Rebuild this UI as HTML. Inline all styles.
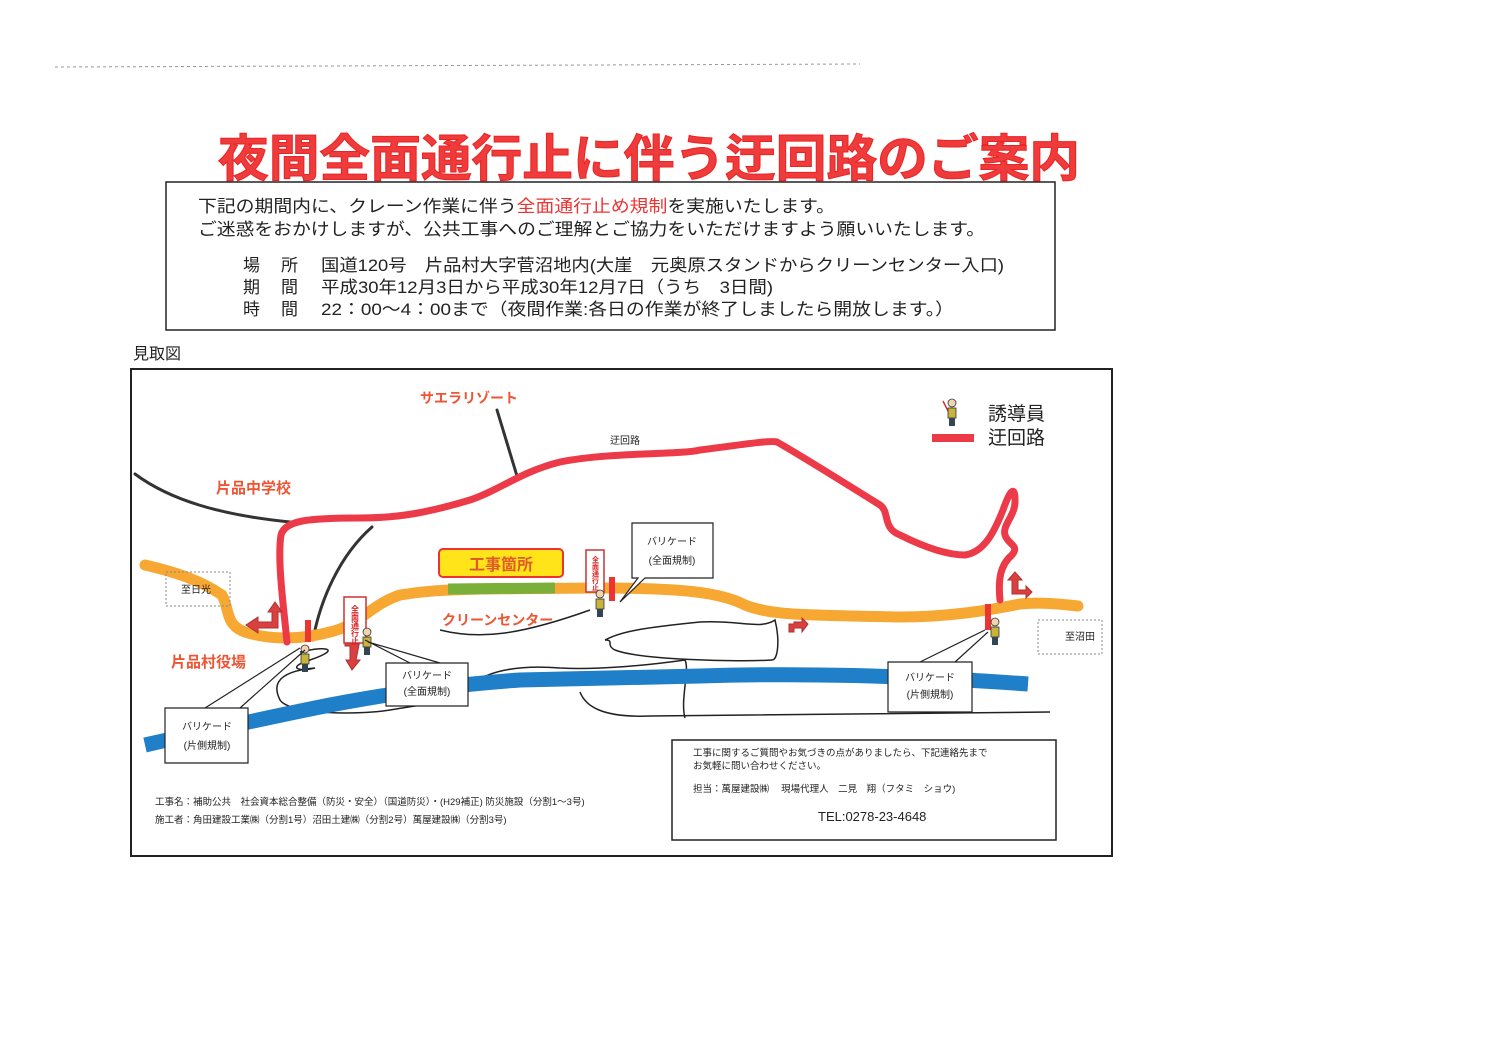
<!DOCTYPE html>
<html><head><meta charset="utf-8">
<style>
html,body{margin:0;padding:0;background:#fff;}
svg{display:block;}
text{font-family:"Liberation Sans","Noto Sans CJK JP",sans-serif;}
</style></head>
<body>
<svg width="1497" height="1058" viewBox="0 0 1497 1058" xmlns="http://www.w3.org/2000/svg">
<rect width="1497" height="1058" fill="#fff"/>
<line x1="55" y1="67" x2="860" y2="64" stroke="#999" stroke-width="1" stroke-dasharray="3,3"/>
<!-- title -->
<text x="218" y="176" font-size="50" font-weight="bold" fill="#ee3b3b" stroke="#e22" stroke-width="1" textLength="862" lengthAdjust="spacingAndGlyphs">夜間全面通行止に伴う迂回路のご案内</text>
<!-- info box -->
<rect x="166" y="182" width="889" height="148" fill="none" stroke="#222" stroke-width="1.5"/>
<g font-size="17" fill="#222">
<text x="198" y="212" textLength="637" lengthAdjust="spacingAndGlyphs">下記の期間内に、クレーン作業に伴う<tspan fill="#e33">全面通行止め規制</tspan>を実施いたします。</text>
<text x="198" y="235" textLength="787" lengthAdjust="spacingAndGlyphs">ご迷惑をおかけしますが、公共工事へのご理解とご協力をいただけますよう願いいたします。</text>
<text x="243" y="271">場</text><text x="281" y="271">所</text>
<text x="321" y="271" textLength="683" lengthAdjust="spacingAndGlyphs">国道120号　片品村大字菅沼地内(大崖　元奥原スタンドからクリーンセンター入口)</text>
<text x="243" y="293">期</text><text x="281" y="293">間</text>
<text x="321" y="293" textLength="452" lengthAdjust="spacingAndGlyphs">平成30年12月3日から平成30年12月7日（うち　3日間)</text>
<text x="243" y="315">時</text><text x="281" y="315">間</text>
<text x="321" y="315" textLength="633" lengthAdjust="spacingAndGlyphs">22：00～4：00まで（夜間作業:各日の作業が終了しましたら開放します。）</text>
</g>
<text x="133" y="359" font-size="16" fill="#222">見取図</text>
<!-- map frame -->
<rect x="131" y="369" width="981" height="487" fill="none" stroke="#222" stroke-width="2"/>
<!-- black lines -->
<g fill="none" stroke="#333" stroke-width="3" stroke-linecap="round">
<path d="M135,474 C170,500 220,515 290,522"/>
<path d="M497,410 L517,476"/>
<path d="M372,527 C340,555 320,600 313,640"/>
</g>
<!-- thin black outlines -->
<g fill="none" stroke="#222" stroke-width="1.5">
<path d="M300,652 C330,645 340,650 310,660 C285,668 300,672 315,668 C270,672 275,690 280,700 C290,715 360,715 390,710 C420,705 460,700 470,690"/>
<path d="M470,690 C480,670 520,665 560,668 C600,670 650,665 685,660 C690,670 680,700 685,718"/>
<path d="M580,692 C585,705 600,718 650,716 L1050,712"/>
<path d="M440,630 C480,640 520,635 590,610"/>
<path d="M605,640 C620,632 640,628 700,622 C740,620 760,630 775,620 C780,640 778,660 772,660 C740,662 640,660 615,650 C605,645 615,640 605,640"/>
</g>
<!-- blue river -->
<path d="M145,745 C220,728 280,715 330,705 C400,692 450,685 520,680 L700,676 C800,673 900,675 1028,684" fill="none" stroke="#1f7fc8" stroke-width="15"/>
<!-- orange road -->
<path d="M145,565 C175,572 200,580 222,595 C230,610 225,625 245,632 C270,640 300,640 330,632 C360,625 370,605 400,595 C430,590 450,590 480,589 L600,588 C680,588 720,592 745,605 C770,615 800,615 900,617 C950,617 990,610 1020,604 C1040,602 1060,604 1078,606" fill="none" stroke="#f7a833" stroke-width="11" stroke-linecap="round"/>
<path d="M448,589 L555,588" stroke="#7ab03a" stroke-width="11"/>
<!-- red route -->
<path d="M287,642 C284,610 277,560 281,535 C285,520 310,518 360,518 C400,518 430,512 470,500 C500,490 520,472 560,462 C610,452 680,455 700,450 C740,445 770,440 777,442 C800,455 840,480 880,505 C890,512 882,528 900,535 C920,545 945,555 965,555 C985,552 995,530 1003,510 C1010,490 1015,485 1015,500 C1016,515 1002,525 1005,535 C1008,545 1020,545 1012,555 C1000,565 998,580 1000,600" fill="none" stroke="#ec3a48" stroke-width="7" stroke-linecap="round" stroke-linejoin="round"/>
<!-- small arrows -->
<g fill="#d94040" stroke="#b03030" stroke-width="1">
<path d="M246,625 L258,617 L258,622 L272,622 L272,612 L268,612 L275,602 L282,612 L278,612 L278,628 L258,628 L258,633 Z"/>
<path d="M789,624 L789,632 L794,632 L794,628 L802,628 L802,632 L808,624 L802,618 L802,622 L794,622 L794,624 Z"/>
<path d="M1012,592 L1012,580 L1008,580 L1015,572 L1022,580 L1018,580 L1018,590 L1026,590 L1026,586 L1032,592 L1026,598 L1026,594 L1012,594 Z"/>
<path d="M345,640 L360,640 L356,660 L360,660 L352,670 L346,660 L350,660 L350,646 L345,646 Z"/>
</g>
<!-- barricade red bars -->
<g fill="#e33">
<rect x="305" y="620" width="6" height="22"/>
<rect x="609" y="577" width="6" height="24"/>
<rect x="985" y="604" width="6" height="26"/>
</g>
<!-- signs -->
<g>
<rect x="344" y="597" width="22" height="46" fill="#fff" stroke="#c33" stroke-width="1.5"/>
<text x="355" y="605" font-size="8" fill="#d22" writing-mode="tb" text-anchor="start" font-weight="bold">全面通行止</text>
<rect x="586" y="550" width="18" height="42" fill="#fff" stroke="#c33" stroke-width="1.5"/>
<text x="595" y="556" font-size="7" fill="#d22" writing-mode="tb" font-weight="bold">全面通行止</text>
</g>
<!-- guides (people) -->
<g>
<g transform="translate(300,645)"><circle cx="5" cy="4" r="4" fill="#f2d3b0" stroke="#333" stroke-width=".8"/><rect x="1" y="9" width="8" height="10" fill="#c8b43a" stroke="#333" stroke-width=".8"/><rect x="2" y="19" width="6" height="8" fill="#345"/></g>
<g transform="translate(362,628)"><circle cx="5" cy="4" r="4" fill="#f2d3b0" stroke="#333" stroke-width=".8"/><rect x="1" y="9" width="8" height="10" fill="#c8b43a" stroke="#333" stroke-width=".8"/><rect x="2" y="19" width="6" height="8" fill="#345"/></g>
<g transform="translate(595,590)"><circle cx="5" cy="4" r="4" fill="#f2d3b0" stroke="#333" stroke-width=".8"/><rect x="1" y="9" width="8" height="10" fill="#c8b43a" stroke="#333" stroke-width=".8"/><rect x="2" y="19" width="6" height="8" fill="#345"/></g>
<g transform="translate(990,618)"><circle cx="5" cy="4" r="4" fill="#f2d3b0" stroke="#333" stroke-width=".8"/><rect x="1" y="9" width="8" height="10" fill="#c8b43a" stroke="#333" stroke-width=".8"/><rect x="2" y="19" width="6" height="8" fill="#345"/></g>
<g transform="translate(947,399)"><line x1="-4" y1="2" x2="2" y2="14" stroke="#c33" stroke-width="1.5"/><circle cx="5" cy="4" r="4" fill="#f2d3b0" stroke="#333" stroke-width=".8"/><rect x="1" y="9" width="8" height="10" fill="#c8b43a" stroke="#333" stroke-width=".8"/><rect x="2" y="19" width="6" height="8" fill="#345"/></g>
</g>
<!-- 工事箇所 -->
<rect x="439" y="549" width="124" height="28" rx="4" fill="#ffe41a" stroke="#e33" stroke-width="2"/>
<text x="501" y="570" font-size="16" font-weight="bold" fill="#e35a2a" text-anchor="middle">工事箇所</text>
<!-- labels -->
<g font-weight="bold" fill="#ee5533">
<text x="420" y="403" font-size="14">サエラリゾート</text>
<text x="216" y="493" font-size="15">片品中学校</text>
<text x="171" y="667" font-size="15">片品村役場</text>
<text x="442" y="625" font-size="14">クリーンセンター</text>
</g>
<g font-size="10" fill="#222">
<rect x="166" y="572" width="64" height="34" fill="none" stroke="#888" stroke-dasharray="2,2"/>
<text x="181" y="593">至日光</text>
<text x="610" y="444">迂回路</text>
<rect x="1038" y="620" width="64" height="34" fill="none" stroke="#888" stroke-dasharray="2,2"/>
<text x="1065" y="640">至沼田</text>
</g>
<!-- legend -->
<text x="988" y="420" font-size="19" fill="#222">誘導員</text>
<text x="988" y="444" font-size="19" fill="#222">迂回路</text>
<rect x="932" y="434" width="42" height="8" fill="#ec3a48"/>
<!-- callouts -->
<g fill="#fff" stroke="#222" stroke-width="1.2">
<path d="M632,523 L713,523 L713,578 L645,578 L620,602 L638,578 L632,578 Z"/>
<path d="M386,663 L468,663 L468,706 L386,706 Z"/>
<path d="M165,708 L248,708 L248,763 L165,763 Z"/>
<path d="M888,662 L972,662 L972,712 L888,712 Z"/>
</g>
<g stroke="#222" stroke-width="1.2" fill="none">
<path d="M240,708 L305,650 M205,708 L300,648"/>
<path d="M410,663 L365,640 M440,663 L368,642"/>
<path d="M920,662 L985,630 M955,662 L988,632"/>
</g>
<g font-size="10" fill="#222" text-anchor="middle">
<text x="672" y="545">バリケード</text><text x="672" y="564">(全面規制)</text>
<text x="427" y="679">バリケード</text><text x="427" y="695">(全面規制)</text>
<text x="207" y="730">バリケード</text><text x="207" y="749">(片側規制)</text>
<text x="930" y="681">バリケード</text><text x="930" y="698">(片側規制)</text>
</g>
<!-- bottom -->
<g font-size="9.5" fill="#222">
<text x="155" y="805">工事名：補助公共　社会資本総合整備（防災・安全）（国道防災）・(H29補正) 防災施設（分割1～3号)</text>
<text x="155" y="823">施工者：角田建設工業㈱（分割1号）沼田土建㈱（分割2号）萬屋建設㈱（分割3号)</text>
</g>
<rect x="672" y="740" width="384" height="100" fill="none" stroke="#222" stroke-width="1.5"/>
<g font-size="9.5" fill="#222">
<text x="693" y="756">工事に関するご質問やお気づきの点がありましたら、下記連絡先まで</text>
<text x="693" y="769">お気軽に問い合わせください。</text>
<text x="693" y="792">担当：萬屋建設㈱　 現場代理人　二見　翔（フタミ　ショウ)</text>
</g>
<text x="818" y="821" font-size="13" fill="#222">TEL:0278-23-4648</text>
</svg>
</body></html>
